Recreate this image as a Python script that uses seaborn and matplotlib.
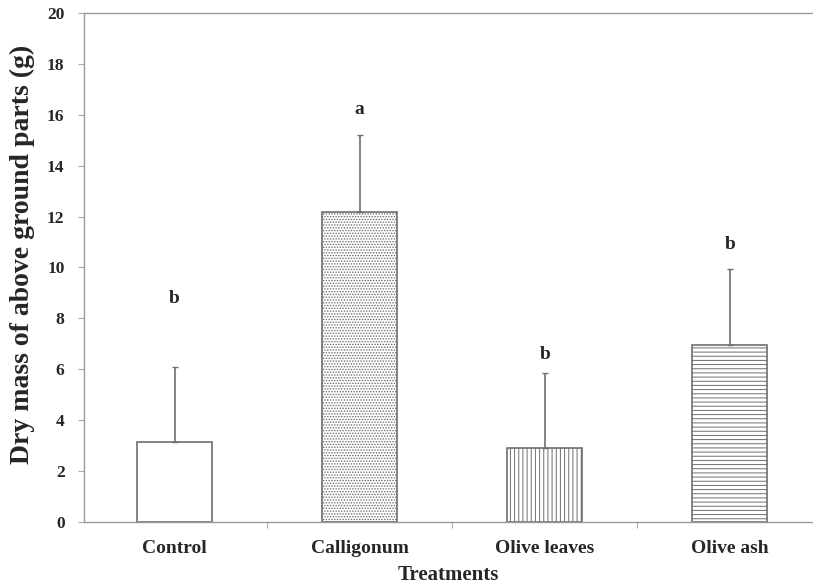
import numpy as np
import pandas as pd
import matplotlib
matplotlib.use('Agg')
import matplotlib.pyplot as plt
import seaborn as sns

# Datos
tratamientos = ['Control', 'Calligonum', 'Olive leaves', 'Olive ash']
masa_seca = [3.15, 12.2, 2.9, 6.95]
error = [2.95, 3.0, 2.95, 3.0]
letras = ['b', 'a', 'b', 'b']
posicion_letra = [8.8, 16.2, 6.6, 10.9]
tramas = ['', '......', '||||', '----']

df = pd.DataFrame({'Tratamiento': tratamientos, 'Masa': masa_seca})

sns.set_style('white')
plt.rcParams['font.family'] = ['Liberation Serif', 'DejaVu Serif']
plt.rcParams['hatch.linewidth'] = 0.7

fig = plt.figure(figsize=(8.13, 5.87), dpi=100)
ax = fig.add_axes([0.1033, 0.1107, 0.8967, 0.8672])

sns.barplot(data=df, x='Tratamiento', y='Masa', color='white', width=0.405,
            edgecolor='#6e6e6e', linewidth=1.2, errorbar=None, ax=ax)

for barra, trama in zip(ax.patches, tramas):
    barra.set_hatch(trama)
    barra.set_facecolor('white')

x = np.arange(len(tratamientos))
ax.errorbar(x, masa_seca, yerr=[np.zeros(len(error)), error], fmt='none',
            ecolor='#6e6e6e', elinewidth=1.2, capsize=2.5, capthick=1.0)

for xi, letra, yl in zip(x, letras, posicion_letra):
    ax.text(xi, yl, letra, ha='center', va='center', fontsize=14, fontweight='bold')

ax.set_ylim(0, 20)
ax.set_xlim(-0.49, 3.45)
ax.set_yticks(range(0, 21, 2))
ax.set_xticks(x)
ax.set_xticks([0.5, 1.5, 2.5], minor=True)
ax.tick_params(axis='x', which='major', length=0, pad=13)
ax.tick_params(axis='x', which='minor', length=4, width=0.8, color='#aaaaaa', direction='out', bottom=True)
ax.tick_params(axis='y', which='major', length=4, width=0.8, color='#aaaaaa', direction='out', left=True, pad=10)
ax.set_xticklabels(tratamientos, fontsize=14, fontweight='bold')
for t in ax.get_yticklabels():
    t.set_fontsize(12.5)
    t.set_fontweight('bold')

for lado in ['left', 'bottom', 'top']:
    ax.spines[lado].set_color('#9a9a9a')
    ax.spines[lado].set_linewidth(1.0)
ax.spines['right'].set_visible(False)

ax.set_xlabel('Treatments', fontsize=15, fontweight='bold', labelpad=6)
ax.set_ylabel('Dry mass of above ground parts (g)', fontsize=20, fontweight='bold')
ax.yaxis.set_label_coords(-0.067, 0.525)

fig.savefig('out.png', dpi=100)
